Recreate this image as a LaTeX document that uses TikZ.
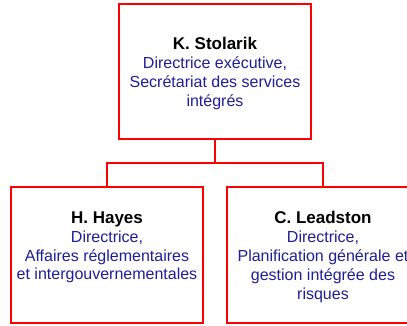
\documentclass[tikz,border=0pt]{standalone}
\usepackage{fontspec}
\setmainfont{Liberation Sans}
\definecolor{boxred}{RGB}{255,0,0}
\definecolor{txtblue}{RGB}{30,30,150}
\begin{document}
\begin{tikzpicture}[x=1pt,y=-1pt,
  orgbox/.style={draw=boxred,line width=2pt,minimum width=192pt,minimum height=135pt,inner sep=0pt,outer sep=0pt,anchor=north west},
  orgtext/.style={anchor=north,align=center,inner sep=0pt,text=txtblue,font=\fontsize{16}{18.9}\selectfont},
  link/.style={draw=boxred,line width=2.2pt}]
\clip (0,0) rectangle (407,325);
\node[orgbox] (top) at (119,4) {};
\node[orgbox,minimum height=136pt] (left) at (11,187) {};
\node[orgbox,minimum height=136pt] (right) at (227,187) {};
\node[orgtext] (ttop) at (215,37.3) {{\color{black}\bfseries\fontsize{17}{19}\selectfont K. Stolarik}\\Directrice exécutive,\\Secrétariat des services\\intégrés};
\node[orgtext] (tleft) at (107,211.3) {{\color{black}\bfseries\fontsize{17}{19}\selectfont H. Hayes}\\Directrice,\\Affaires réglementaires\\et intergouvernementales};
\node[orgtext] (tright) at (323,211.3) {{\color{black}\bfseries\fontsize{17}{19}\selectfont C. Leadston}\\Directrice,\\Planification générale et\\gestion intégrée des\\risques};
\coordinate (mid) at (215,163);
\draw[link] (top.south) -- (mid);
\draw[link] (mid) -| (left.north);
\draw[link] (mid) -| (right.north);
\end{tikzpicture}
\end{document}
